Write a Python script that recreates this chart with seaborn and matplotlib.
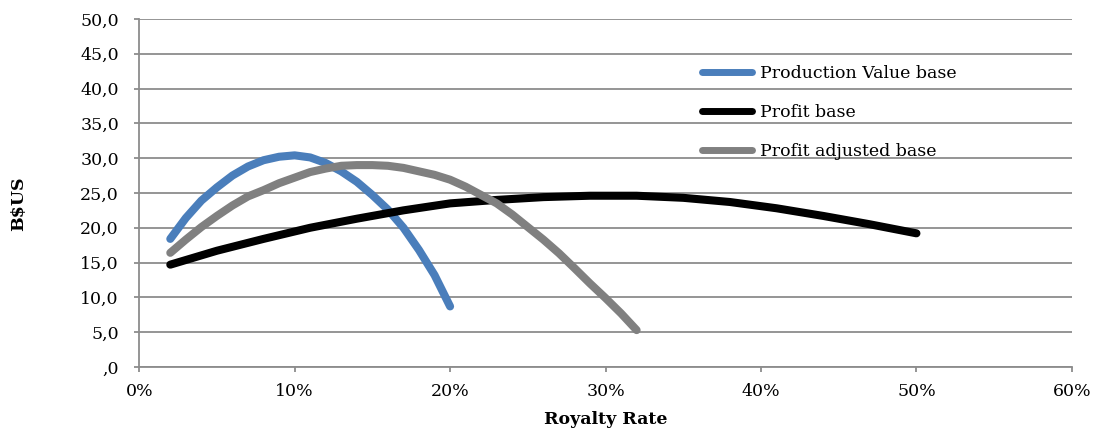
import matplotlib
matplotlib.use("Agg")
import matplotlib.pyplot as plt
import seaborn as sns
import pandas as pd
from matplotlib.ticker import FuncFormatter, MultipleLocator

# Data (royalty rate in %, value in B$US)
pv_rate = [2, 3, 4, 5, 6, 7, 8, 9, 10, 11, 12, 13, 14, 15, 16, 17, 18, 19, 20]
pv_vals = [18.4, 21.4, 23.9, 25.8, 27.5, 28.8, 29.7, 30.2, 30.4, 30.1, 29.3, 28.1,
           26.6, 24.7, 22.6, 20.0, 16.8, 13.2, 8.7]

profit_rate = [2, 5, 8, 11, 14, 17, 20, 23, 26, 29, 32, 35, 38, 41, 44, 47, 50]
profit_vals = [14.7, 16.7, 18.4, 20.0, 21.3, 22.5, 23.5, 24.0, 24.4, 24.6, 24.6,
               24.3, 23.7, 22.8, 21.7, 20.5, 19.2]

adj_rate = [2, 3, 4, 5, 6, 7, 8, 9, 10, 11, 12, 13, 14, 15, 16, 17, 18, 19, 20,
            21, 22, 23, 24, 25, 26, 27, 28, 29, 30, 31, 32]
adj_vals = [16.4, 18.3, 20.1, 21.7, 23.2, 24.5, 25.4, 26.4, 27.2, 28.0, 28.5, 28.9,
            29.0, 29.0, 28.9, 28.6, 28.1, 27.6, 26.9, 25.9, 24.7, 23.5, 21.9, 20.1,
            18.3, 16.35, 14.2, 12.0, 9.9, 7.7, 5.3]

series_names = ["Production Value base", "Profit base", "Profit adjusted base"]
colors = ["#4a7ebb", "#000000", "#808080"]

df = pd.concat([
    pd.DataFrame({"rate": pv_rate, "val": pv_vals, "series": series_names[0]}),
    pd.DataFrame({"rate": profit_rate, "val": profit_vals, "series": series_names[1]}),
    pd.DataFrame({"rate": adj_rate, "val": adj_vals, "series": series_names[2]}),
])

sns.set_style("white")
plt.rcParams["font.family"] = ["DejaVu Serif"]
plt.rcParams["text.color"] = "black"
plt.rcParams["axes.labelcolor"] = "black"

FS = 12.5
fig = plt.figure(figsize=(10.96, 4.29), dpi=100)
ax = fig.add_axes([0.127, 0.1445, 0.851, 0.8115])

sns.lineplot(data=df, x="rate", y="val", hue="series", palette=dict(zip(series_names, colors)),
             hue_order=series_names, linewidth=5.8, ax=ax, sort=False, estimator=None)
for ln in ax.lines:
    ln.set_solid_capstyle("round")
    ln.set_solid_joinstyle("round")

ax.set_xlim(0, 60)
ax.set_ylim(0, 50)
ax.xaxis.set_major_locator(MultipleLocator(10))
ax.yaxis.set_major_locator(MultipleLocator(5))
ax.xaxis.set_major_formatter(FuncFormatter(lambda v, p: f"{int(round(v))}%"))
def yfmt(v, p):
    s = f"{v:.1f}".replace(".", ",")
    if s.startswith("0,"):
        s = s[1:]
    return s
ax.yaxis.set_major_formatter(FuncFormatter(yfmt))

ax.grid(axis="y", color="#8c8c8c", linewidth=1.3)
ax.grid(axis="x", visible=False)
ax.set_axisbelow(True)
for s in ["top", "right"]:
    ax.spines[s].set_visible(False)
for s in ["left", "bottom"]:
    ax.spines[s].set_color("#8c8c8c")
    ax.spines[s].set_linewidth(1.3)
ax.tick_params(axis="both", which="major", direction="out", length=3.6, width=1.3,
               color="#8c8c8c", labelsize=FS, labelcolor="black")
ax.tick_params(axis="y", left=True, pad=11)
ax.tick_params(axis="x", bottom=True, pad=8)

ax.set_xlabel("Royalty Rate", fontsize=FS, fontweight="bold")
ax.set_ylabel("B$US", fontsize=FS, fontweight="bold")
ax.xaxis.set_label_coords(0.5, -0.126)
ax.yaxis.set_label_coords(-0.120, 0.47)

leg = ax.legend(loc="upper left", bbox_to_anchor=(0.603, 0.868), frameon=False,
                fontsize=FS, handlelength=2.9, handletextpad=0.45, labelspacing=1.28,
                borderaxespad=0, borderpad=0)
for h in leg.get_lines():
    h.set_linewidth(5)
    h.set_solid_capstyle("round")

fig.savefig("out.png", dpi=100)
